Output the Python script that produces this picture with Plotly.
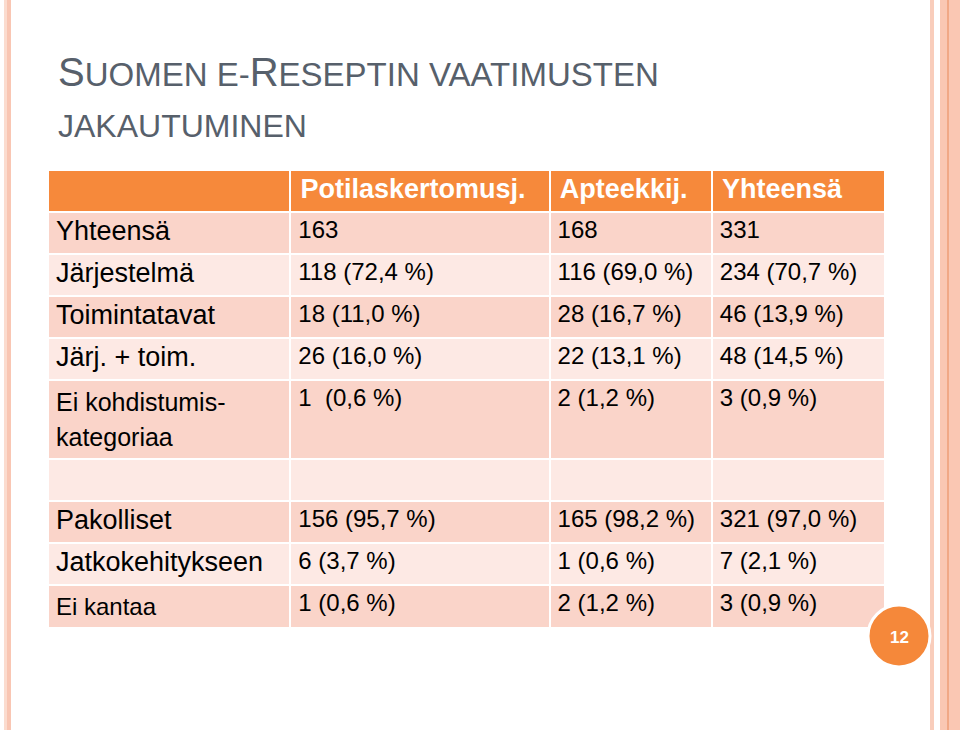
import plotly.graph_objects as go

# table content
col_headers = ["", "Potilaskertomusj.", "Apteekkij.", "Yhteensä"]
row_labels = ["Yhteensä", "Järjestelmä", "Toimintatavat", "Järj. + toim.",
              "Ei kohdistumis-<br>kategoriaa", "", "Pakolliset",
              "Jatkokehitykseen", "Ei kantaa"]
potilas = ["163", "118 (72,4 %)", "18 (11,0 %)", "26 (16,0 %)", "1 \u00a0(0,6 %)",
           "", "156 (95,7 %)", "6 (3,7 %)", "1 (0,6 %)"]
apteekki = ["168", "116 (69,0 %)", "28 (16,7 %)", "22 (13,1 %)", "2 (1,2 %)",
            "", "165 (98,2 %)", "1 (0,6 %)", "2 (1,2 %)"]
yhteensa = ["331", "234 (70,7 %)", "46 (13,9 %)", "48 (14,5 %)", "3 (0,9 %)",
            "", "321 (97,0 %)", "7 (2,1 %)", "3 (0,9 %)"]

ORANGE = "#f6893b"
DARK_ROW = "#fad4c9"
LIGHT_ROW = "#fde9e4"
FONT = "Liberation Sans, Arial, sans-serif"

n = len(row_labels)
row_fill = [DARK_ROW if i % 2 == 0 else LIGHT_ROW for i in range(n)]

# two-line label a touch smaller so its row stays compact; "Ei kantaa" is
# smaller on the slide too (the trailing <br> stops plotly from word-wrapping it)
labels = []
for s in row_labels:
    if "<br>" in s:
        s = "<span style='font-size:25px'>" + s + "</span>"
    elif s == "Ei kantaa":
        s = "<span style='font-size:24px'>" + s + "</span><br>"
    labels.append(s)

fig = go.Figure()
fig.add_trace(go.Table(
    domain=dict(x=[48 / 960, 885 / 960], y=[0, 1 - 170 / 730]),
    columnwidth=[242, 259, 162, 173],
    header=dict(
        values=["\u200a" + h if h else h for h in col_headers],
        fill_color=ORANGE,
        line=dict(color="white", width=2),
        font=dict(family=FONT, size=27, color="white", weight="bold"),
        align="left",
        height=42,
    ),
    cells=dict(
        values=[labels, potilas, apteekki, yhteensa],
        fill_color=[row_fill] * 4,
        line=dict(color="white", width=2),
        font=dict(family=FONT, size=[27, 24, 24, 24], color="black"),
        align="left",
        height=42,
    ),
))

# decorative side stripes of the slide
stripes = [
    (4, 7, "#fbdccf"), (7, 11, "#f9c6b3"),
    (930, 934, "#f9cdbb"), (940, 960, "#fac7b3"), (947, 949, "#f1a886"),
]
for x0, x1, c in stripes:
    fig.add_shape(type="rect", xref="paper", yref="paper",
                  x0=x0 / 960, x1=x1 / 960, y0=0, y1=1,
                  fillcolor=c, line_width=0, layer="above")

# page number badge
fig.add_shape(type="circle", xref="paper", yref="paper",
              x0=868 / 960, x1=930 / 960, y0=1 - 667 / 730, y1=1 - 605 / 730,
              fillcolor="#f5883a", line=dict(color="white", width=3), layer="above")
fig.add_annotation(x=899 / 960, y=1 - 637 / 730, xref="paper", yref="paper",
                   xanchor="center", yanchor="middle",
                   text="12", showarrow=False,
                   font=dict(family=FONT, size=17, color="white", weight="bold"))

# title in small caps
title1 = ("<span style='font-size:40px'>S</span>UOMEN E-"
          "<span style='font-size:40px'>R</span>ESEPTIN VAATIMUSTEN")
fig.add_annotation(x=56 / 960, y=1 - 96 / 730, xref="paper", yref="paper",
                   xanchor="left", yanchor="bottom", text=title1, showarrow=False,
                   font=dict(family=FONT, size=33, color="#57606b"))
fig.add_annotation(x=56 / 960, y=1 - 146 / 730, xref="paper", yref="paper",
                   xanchor="left", yanchor="bottom", text="JAKAUTUMINEN", showarrow=False,
                   font=dict(family=FONT, size=32, color="#57606b"))

fig.update_layout(
    width=960, height=730,
    margin=dict(l=0, r=0, t=0, b=0),
    paper_bgcolor="white", plot_bgcolor="white",
    showlegend=False,
)

fig.write_html("out.html", config={"displayModeBar": False},
               post_script="document.body.style.margin='0';")
